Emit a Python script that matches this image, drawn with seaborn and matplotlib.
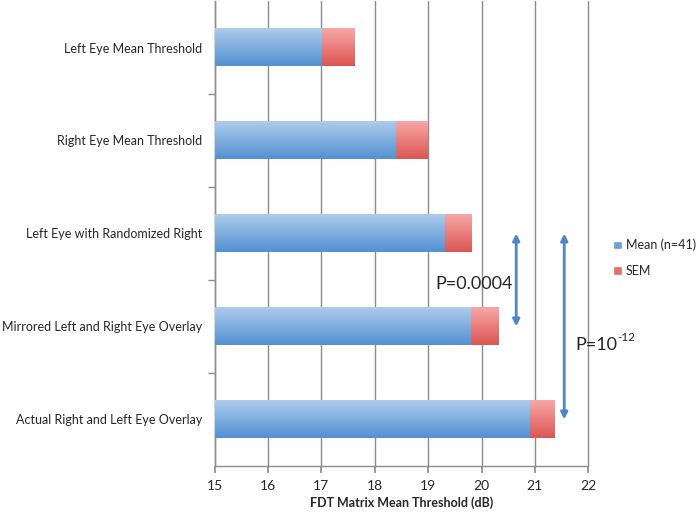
import numpy as np
import pandas as pd
import matplotlib
matplotlib.use("Agg")
import matplotlib.pyplot as plt
import seaborn as sns
from matplotlib.patches import Patch

# values
categories = [
    "Left Eye Mean Threshold",
    "Right Eye Mean Threshold",
    "Left Eye with Randomized Right",
    "Mirrored Left and Right Eye Overlay",
    "Actual Right and Left Eye Overlay",
]
mean_db = [17.0, 18.39, 19.3, 19.79, 20.89]
sem_db = [0.62, 0.60, 0.50, 0.53, 0.48]

df = pd.DataFrame({"category": categories, "mean": mean_db, "sem": sem_db})
df["top"] = df["mean"] + df["sem"]

sns.set_theme(style="white")
plt.rcParams["font.family"] = ["Lato", "DejaVu Sans"]

fig = plt.figure(figsize=(6.97, 5.12), dpi=100)
ax = fig.add_axes([0.308, 0.09, 0.536, 0.908])

blue_grad = matplotlib.colors.LinearSegmentedColormap.from_list("b", ["#5391d2", "#aecbec"])
red_grad = matplotlib.colors.LinearSegmentedColormap.from_list("r", ["#dc5653", "#f6a7a6"])

sns.barplot(data=df, x="top", y="category", color="#e46c6a", width=0.4,
            saturation=1, ax=ax, zorder=3)
n_red = len(ax.patches)
sns.barplot(data=df, x="mean", y="category", color="#6a9fd8", width=0.4,
            saturation=1, ax=ax, zorder=3)

ax.set_xlim(15, 22)
ax.set_ylim(4.5, -0.5)

# gradient fill on each bar
grad = np.linspace(0, 1, 64).reshape(-1, 1)
for i, p in enumerate(ax.patches):
    cmap = red_grad if i < n_red else blue_grad
    x0 = max(p.get_x(), 15)
    x1 = p.get_x() + p.get_width()
    y0, y1 = p.get_y(), p.get_y() + p.get_height()
    ax.imshow(grad, cmap=cmap, aspect="auto", extent=[x0, x1, y1, y0],
              origin="lower", zorder=3.5 + (0.5 if i >= n_red else 0))
    p.set_facecolor("none")
    p.set_edgecolor("none")
ax.set_xlim(15, 22)
ax.set_ylim(4.5, -0.5)

ax.xaxis.grid(True, color="#8c8c8c", lw=1)
ax.set_axisbelow(True)
ax.set_xticks(range(15, 23))
for gl in ax.get_xgridlines():
    gl.set_clip_on(False)
sns.despine(ax=ax, top=True, right=True)
for s in ["left", "bottom"]:
    ax.spines[s].set_color("#8c8c8c")
    ax.spines[s].set_linewidth(1)

ax.set_yticks(range(len(categories)))
ax.set_yticklabels(categories, fontsize=9)
ax.tick_params(axis="y", length=0, pad=9)
ax.set_yticks([0.5, 1.5, 2.5, 3.5], minor=True)
ax.tick_params(axis="y", which="minor", length=5, color="#8c8c8c", left=True)
ax.tick_params(axis="x", length=5, color="#8c8c8c", bottom=True, labelsize=10, pad=5)
ax.set_ylabel("")
ax.set_xlabel("FDT Matrix Mean Threshold (dB)", fontsize=9, fontweight="bold", labelpad=3)

arrow_kw = dict(arrowstyle="<|-|>", color="#4f86c6", lw=2, mutation_scale=10,
                shrinkA=0, shrinkB=0)
ax.annotate("", xy=(20.65, 2.0), xytext=(20.65, 3.0), arrowprops=arrow_kw, zorder=5)
ax.annotate("", xy=(21.55, 2.0), xytext=(21.55, 4.0), arrowprops=arrow_kw, zorder=5)
ax.text(19.86, 2.54, "P=0.0004", fontsize=13, ha="center", va="center", zorder=6)
t = ax.text(21.75, 3.2, "P=10", fontsize=13, ha="left", va="center", zorder=6)
ax.annotate("-12", xy=(1, 0.62), xycoords=t, fontsize=8.5, ha="left", va="bottom",
            zorder=6)

handles = [Patch(facecolor="#6a9fd8", label="Mean (n=41)"),
           Patch(facecolor="#e46c6a", label="SEM")]
fig.legend(handles=handles, loc="center left", bbox_to_anchor=(0.873, 0.496),
           frameon=False, fontsize=9, handlelength=0.7, handleheight=0.7,
           handletextpad=0.3, labelspacing=1.1, borderaxespad=0)

fig.savefig("out.png", dpi=100)
